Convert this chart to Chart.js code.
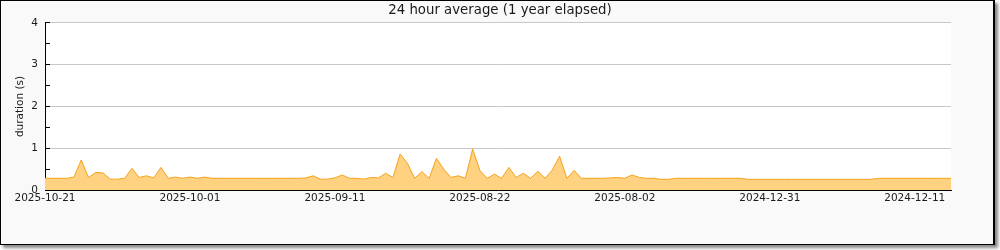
<!DOCTYPE html>
<html>
<head>
<meta charset="utf-8">
<script src="https://cdn.jsdelivr.net/npm/chart.js@4.4.1/dist/chart.umd.min.js"></script>
<style>
    html, body { margin: 0; padding: 0; background: #fff; }
    #frame {
        position: absolute; left: 0; top: 0;
        width: 995px; height: 245px; box-sizing: border-box;
        border: 1px solid #000;
        border-right-width: 2px;
        background: #f9f9f9;
        box-shadow: 3px 3px 3px #888;
    }
    #wrap { position: absolute; left: 0; top: 0; width: 1000px; height: 250px; }
</style>
</head>
<body>
<div id="frame"></div>
<div id="wrap"><canvas id="avgChart" width="1000" height="250"></canvas></div>
<script>
// tick labels shown every 20 samples along the x axis
const tickLabels = ['2025-10-21', '2025-10-01', '2025-09-11', '2025-08-22', '2025-08-02', '2024-12-31', '2024-12-11'];
const yTicks = [0, 1, 2, 3, 4];

// 24h average duration (s), newest first
const durations = [
    0.28, 0.28, 0.28, 0.28, 0.31, 0.72, 0.30, 0.42, 0.41, 0.26,
    0.26, 0.28, 0.52, 0.30, 0.34, 0.29, 0.54, 0.28, 0.31, 0.28,
    0.31, 0.28, 0.31, 0.28, 0.28, 0.28, 0.28, 0.28, 0.28, 0.28,
    0.28, 0.28, 0.28, 0.28, 0.28, 0.28, 0.29, 0.34, 0.26, 0.26,
    0.29, 0.36, 0.28, 0.28, 0.26, 0.30, 0.29, 0.40, 0.30, 0.86,
    0.64, 0.28, 0.44, 0.28, 0.76, 0.50, 0.30, 0.34, 0.28, 0.98,
    0.47, 0.28, 0.38, 0.28, 0.54, 0.30, 0.40, 0.28, 0.45, 0.28,
    0.48, 0.81, 0.28, 0.47, 0.28, 0.28, 0.28, 0.28, 0.29, 0.30,
    0.28, 0.36, 0.30, 0.28, 0.28, 0.255, 0.255, 0.28, 0.28, 0.28,
    0.28, 0.28, 0.28, 0.28, 0.28, 0.28, 0.28, 0.255, 0.255, 0.255,
    0.255, 0.255, 0.255, 0.255, 0.255, 0.255, 0.255, 0.255, 0.255, 0.255,
    0.255, 0.255, 0.255, 0.255, 0.255, 0.28, 0.28, 0.28, 0.28, 0.28,
    0.28, 0.28, 0.28, 0.28, 0.28, 0.28
];

const FONT = "'DejaVu Sans', sans-serif";

// white plot background
const plotBg = {
    id: 'plotBg',
    beforeDraw(chart) {
        const {ctx, chartArea: a} = chart;
        ctx.save();
        ctx.fillStyle = '#ffffff';
        ctx.fillRect(a.left, a.top, a.right - a.left, a.bottom - a.top);
        ctx.restore();
    }
};

const ctx = document.getElementById('avgChart').getContext('2d');
new Chart(ctx, {
    type: 'line',
    data: {
        datasets: [{
            data: durations.map((v, i) => ({x: i, y: v})),
            borderColor: '#f7a21b',
            backgroundColor: '#ffd281',
            borderWidth: 1,
            fill: 'origin',
            pointRadius: 0,
            tension: 0
        }]
    },
    options: {
        responsive: false,
        animation: false,
        layout: { padding: 0 },
        plugins: {
            legend: { display: false },
            tooltip: { enabled: false },
            title: {
                display: true,
                text: '24 hour average (1 year elapsed)',
                color: '#1a1a1a',
                font: { family: FONT, size: 13.3, weight: 'normal', lineHeight: 1.2 },
                padding: { top: 3, bottom: 4 }
            }
        },
        scales: {
            x: {
                type: 'linear',
                min: 0,
                max: durations.length - 1,
                afterFit(scale) { scale.height = 60; },
                border: { display: true, color: '#000', width: 1 },
                grid: {
                    drawOnChartArea: false,
                    drawTicks: true,
                    tickLength: -5,
                    tickColor: (c) => (c.tick && c.tick.value % 10 === 0) ? '#000' : 'rgba(0,0,0,0)'
                },
                ticks: {
                    stepSize: 10,
                    autoSkip: false,
                    maxRotation: 0,
                    padding: 7,
                    color: '#1a1a1a',
                    font: { family: FONT, size: 10.5 },
                    callback: (v) => (v % 20 === 0 && tickLabels[v / 20]) ? tickLabels[v / 20] : ''
                }
            },
            y: {
                min: yTicks[0],
                max: yTicks[yTicks.length - 1],
                afterFit(scale) { scale.width = 45; },
                border: { display: true, color: '#000', width: 1 },
                grid: {
                    drawTicks: true,
                    tickLength: -5,
                    color: (c) => (c.tick && yTicks.includes(c.tick.value)) ? '#c8c8c8' : 'rgba(0,0,0,0)',
                    tickColor: '#000'
                },
                ticks: {
                    stepSize: 0.5,
                    padding: 12,
                    color: '#1a1a1a',
                    font: { family: FONT, size: 10.5 },
                    callback: (v) => yTicks.includes(v) ? String(v) : ''
                },
                title: {
                    display: true,
                    text: 'duration (s)',
                    color: '#1a1a1a',
                    font: { family: FONT, size: 10.5 },
                    padding: { top: 14, bottom: 0 }
                }
            },
            // empty right-hand margin so the title stays centred on the page
            yRight: {
                position: 'right',
                min: yTicks[0],
                max: yTicks[yTicks.length - 1],
                afterFit(scale) { scale.width = 49; },
                border: { display: false },
                grid: { display: false },
                ticks: { display: false }
            }
        }
    },
    plugins: [plotBg]
});
</script>
</body>
</html>
